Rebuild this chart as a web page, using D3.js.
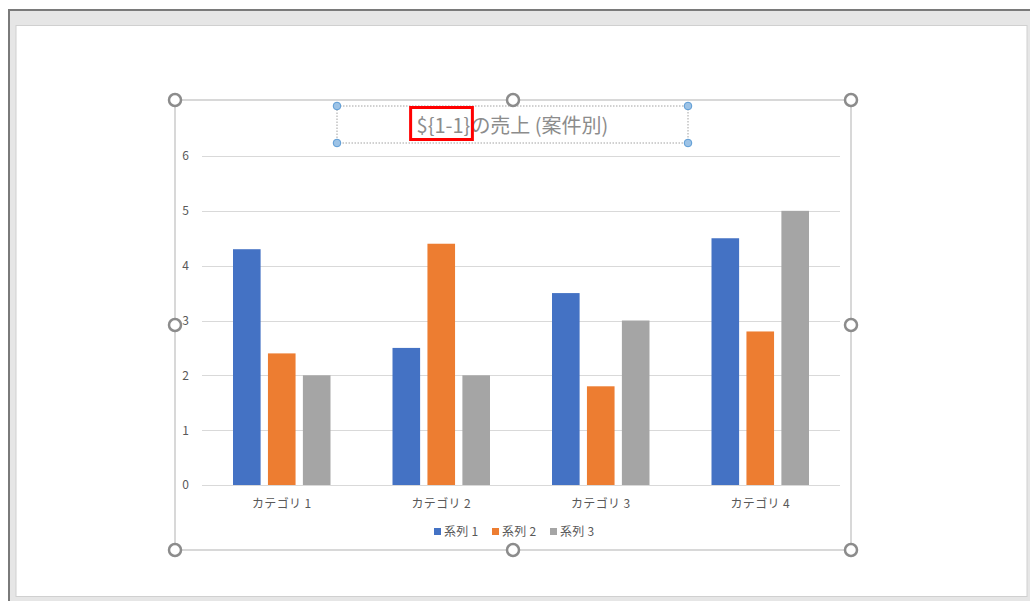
<!DOCTYPE html>
<html>
<head>
<meta charset="utf-8">
<script src="https://cdn.jsdelivr.net/npm/d3@7"></script>
<style>
  html, body { margin: 0; padding: 0; background: #ffffff; }
  svg { display: block; }
  text { font-family: "Noto Sans CJK JP", "Noto Sans", sans-serif; }
</style>
</head>
<body>
<svg id="chart" width="1030" height="601"></svg>
<script>
// Chart data
const categories = ["カテゴリ 1", "カテゴリ 2", "カテゴリ 3", "カテゴリ 4"];
const seriesNames = ["系列 1", "系列 2", "系列 3"];
const series1 = [4.3, 2.5, 3.5, 4.5];
const series2 = [2.4, 4.4, 1.8, 2.8];
const series3 = [2.0, 2.0, 3.0, 5.0];
const yTicks = [0, 1, 2, 3, 4, 5, 6];
const titlePlaceholder = "${1-1}";
const titleRest = "の売上 (案件別)";

const seriesValues = [series1, series2, series3];
const colors = ["#4472c4", "#ed7d31", "#a5a5a5"];

const svg = d3.select("#chart");

// Window frame around the slide
svg.append("rect").attr("x", 0).attr("y", 0).attr("width", 1030).attr("height", 601).attr("fill", "#ffffff");
svg.append("rect").attr("x", 9).attr("y", 10).attr("width", 1030).attr("height", 601)
  .attr("fill", "#e6e6e6").attr("stroke", "#7a7a7a").attr("stroke-width", 2);
svg.append("rect").attr("x", 16).attr("y", 25.5).attr("width", 1011).attr("height", 571)
  .attr("fill", "#ffffff").attr("stroke", "#d0d0d0").attr("stroke-width", 1);

// Plot area
const plot = { left: 202, right: 840, top: 156, bottom: 485 };

const x0 = d3.scaleBand().domain(categories).range([plot.left, plot.right]).paddingInner(0).paddingOuter(0);
const innerPad = 0.21;
const x1 = d3.scaleBand().domain(d3.range(seriesNames.length))
  .range([31, x0.bandwidth() - 31]).paddingInner(innerPad);
const y = d3.scaleLinear().domain([0, 6]).range([plot.bottom, plot.top]);

// Gridlines
svg.append("g").selectAll("line").data(yTicks.filter(t => t > 0)).join("line")
  .attr("x1", plot.left).attr("x2", plot.right)
  .attr("y1", d => Math.round(y(d)) + 0.5).attr("y2", d => Math.round(y(d)) + 0.5)
  .attr("stroke", "#d9d9d9").attr("stroke-width", 1);

// Y axis labels
const yAxis = d3.axisLeft(y).tickValues(yTicks).tickSize(0).tickPadding(0).tickFormat(d3.format("d"));
const yg = svg.append("g").attr("transform", `translate(189,0)`).call(yAxis);
yg.select(".domain").remove();
yg.selectAll("text").attr("fill", "#595959").attr("font-size", 12)
  .attr("font-family", '"Noto Sans CJK JP", sans-serif');

// Bars
const groups = svg.append("g").selectAll("g").data(categories).join("g")
  .attr("transform", d => `translate(${x0(d)},0)`);
groups.selectAll("rect").data((c, i) => seriesValues.map((s, k) => ({ k, v: s[i] }))).join("rect")
  .attr("x", d => x1(d.k))
  .attr("width", x1.bandwidth())
  .attr("y", d => y(d.v))
  .attr("height", d => y(0) - y(d.v))
  .attr("fill", d => colors[d.k]);

// Baseline
svg.append("line").attr("x1", plot.left).attr("x2", plot.right)
  .attr("y1", Math.round(y(0)) + 0.5).attr("y2", Math.round(y(0)) + 0.5)
  .attr("stroke", "#d9d9d9").attr("stroke-width", 1);

// Category axis labels
const xAxis = d3.axisBottom(x0).tickSize(0).tickPadding(0);
const xg = svg.append("g").attr("transform", `translate(0,${plot.bottom + 14})`).call(xAxis);
xg.select(".domain").remove();
xg.selectAll("text").attr("fill", "#595959").attr("font-size", 12).attr("letter-spacing", "0.4px")
  .attr("font-family", '"Noto Sans CJK JP", sans-serif');

// Legend
const legendX = [434, 492, 550];
const legend = svg.append("g").selectAll("g").data(seriesNames).join("g")
  .attr("transform", (d, i) => `translate(${legendX[i]},532)`);
legend.append("rect").attr("x", 0).attr("y", -4).attr("width", 7).attr("height", 7)
  .attr("fill", (d, i) => colors[i]);
legend.append("text").attr("x", 10).attr("y", 0).attr("dy", "0.35em")
  .attr("fill", "#595959").attr("font-size", 12).attr("letter-spacing", "0.3px").text(d => d);

// Chart frame with selection handles
const frame = { x: 175, y: 100, w: 676, h: 450 };
svg.append("rect").attr("x", frame.x).attr("y", frame.y).attr("width", frame.w).attr("height", frame.h)
  .attr("fill", "none").attr("stroke", "#bfbfbf").attr("stroke-width", 1.2);
const handles = [];
[0, 0.5, 1].forEach(fx => [0, 0.5, 1].forEach(fy => {
  if (!(fx === 0.5 && fy === 0.5)) handles.push([frame.x + fx * frame.w, frame.y + fy * frame.h]);
}));
svg.append("g").selectAll("circle").data(handles).join("circle")
  .attr("cx", d => d[0]).attr("cy", d => d[1]).attr("r", 6)
  .attr("fill", "#ffffff").attr("stroke", "#8c8c8c").attr("stroke-width", 2.5);

// Title box (selected text box)
const tb = { x: 337, y: 106, w: 351, h: 37 };
svg.append("rect").attr("x", tb.x).attr("y", tb.y).attr("width", tb.w).attr("height", tb.h)
  .attr("fill", "none").attr("stroke", "#8c8c8c").attr("stroke-width", 0.8).attr("stroke-dasharray", "1.5,1.5");

const title = svg.append("text").attr("x", 512.5).attr("y", 126).attr("dy", "0.35em")
  .attr("text-anchor", "middle").attr("fill", "#8c8c8c").attr("font-size", 20);
title.append("tspan").attr("id", "ph").text(titlePlaceholder);
title.append("tspan").text(titleRest);

// Red highlight around the placeholder
const phBox = document.getElementById("ph").getBBox();
svg.append("rect").attr("x", phBox.x - 6).attr("y", 107.5).attr("width", phBox.width + 8).attr("height", 32)
  .attr("fill", "none").attr("stroke", "#ff0000").attr("stroke-width", 3);

const tbCorners = [[tb.x, tb.y], [tb.x + tb.w, tb.y], [tb.x, tb.y + tb.h], [tb.x + tb.w, tb.y + tb.h]];
svg.append("g").selectAll("circle").data(tbCorners).join("circle")
  .attr("cx", d => d[0]).attr("cy", d => d[1]).attr("r", 3.8)
  .attr("fill", "#9dc3e6").attr("stroke", "#5b9bd5").attr("stroke-width", 1);
</script>
</body>
</html>
